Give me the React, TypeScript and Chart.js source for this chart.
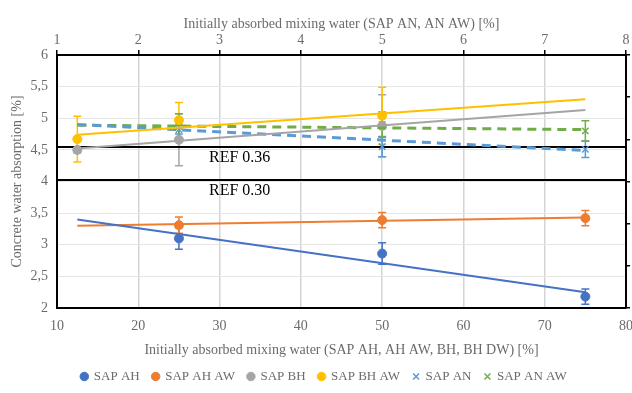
import React, { useEffect, useRef } from 'react';
import { Chart, registerables } from 'chart.js';
Chart.register(...registerables);

// ---- data (bottom axis: SAP AH, AH AW, BH, BH AW) ----
const xAH = [25, 50, 75];
const ahValues = [3.1, 2.86, 2.18];
const ahErrors = [0.17, 0.17, 0.12];
const ahAwValues = [3.31, 3.39, 3.42];
const ahAwErrors = [0.13, 0.12, 0.12];

const xBH = [12.5, 25, 50];
const bhValues = [4.5, 4.66, 4.88];
const bhErrors = [0.05, 0.41, 0.49];
const bhAwValues = [4.67, 4.97, 5.04];
const bhAwErrors = [0.36, 0.28, 0.45];

// ---- data (top axis: SAP AN, AN AW) ----
const xAN = [2.5, 5, 7.5];
const anValues = [4.82, 4.55, 4.51];
const anErrors = [0.07, 0.16, 0.13];
const anAwValues = [4.87, 4.9, 4.8];
const anAwErrors = [0.2, 0.2, 0.16];

// ---- trendlines (endpoints) ----
const trendXBottom = [12.5, 75];
const trendAH = [3.4, 2.25];
const trendAHAW = [3.3, 3.43];
const trendBH = [4.52, 5.13];
const trendBHAW = [4.74, 5.3];
const trendXTop = [1.25, 7.5];
const trendAN = [4.9, 4.49];
const trendANAW = [4.89, 4.82];

// ---- reference levels ----
const refValues = [4.55, 4.03];
const refLabels = ['REF 0.36', 'REF 0.30'];

const labels = ['SAP AH', 'SAP AH AW', 'SAP BH', 'SAP BH AW', 'SAP AN', 'SAP AN AW'];
const colors = ['#4472C4', '#ED7D31', '#A5A5A5', '#FFC000', '#5B9BD5', '#70AD47'];

const FONT = 'Liberation Serif';
const TXT = '#6b6b6b';

const pts = (xs: number[], ys: number[]) => xs.map((x, i) => ({ x, y: ys[i] }));

const errorBarPlugin = {
  id: 'errorBars',
  beforeDatasetsDraw(chart: any) {
    const ctx = chart.ctx;
    const ys = chart.scales.y;
    chart.data.datasets.forEach((ds: any) => {
      if (!ds.errors) return;
      const xs = chart.scales[ds.xAxisID || 'x'];
      ctx.save();
      ctx.strokeStyle = ds.errorColor || ds.borderColor;
      ctx.lineWidth = 1.5;
      ds.data.forEach((p: any, j: number) => {
        const e = ds.errors[j];
        const px = xs.getPixelForValue(p.x);
        const t = ys.getPixelForValue(p.y + e);
        const b = ys.getPixelForValue(p.y - e);
        ctx.beginPath();
        ctx.moveTo(px, t);
        ctx.lineTo(px, b);
        ctx.moveTo(px - 4, t);
        ctx.lineTo(px + 4, t);
        ctx.moveTo(px - 4, b);
        ctx.lineTo(px + 4, b);
        ctx.stroke();
      });
      ctx.restore();
    });
  },
};

const refPlugin = {
  id: 'refLines',
  beforeDatasetsDraw(chart: any) {
    const ctx = chart.ctx;
    const { left, right } = chart.chartArea;
    const ys = chart.scales.y;
    const xs = chart.scales.x;
    ctx.save();
    refValues.forEach((v, i) => {
      const py = Math.round(ys.getPixelForValue(v));
      ctx.strokeStyle = '#000';
      ctx.lineWidth = 2;
      ctx.beginPath();
      ctx.moveTo(left, py);
      ctx.lineTo(right, py);
      ctx.stroke();
      ctx.fillStyle = '#000';
      ctx.font = `16px "${FONT}"`;
      ctx.textBaseline = 'middle';
      ctx.textAlign = 'left';
      ctx.fillText(refLabels[i], xs.getPixelForValue(28.7), ys.getPixelForValue(v - 0.17));
    });
    ctx.restore();
  },
};

// nudges the legend row to the right, as in the original
const legendShiftPlugin = {
  id: 'legendShift',
  afterLayout(chart: any) {
    if (chart.legend) {
      chart.legend.left += 8;
      chart.legend.right += 8;
    }
  },
};

export default function App() {
  const ref = useRef<HTMLCanvasElement>(null);
  useEffect(() => {
    if (!ref.current) return;
    const pointDs = (i: number, xs: number[], ys: number[], errs: number[], top = false) => ({
      label: labels[i],
      data: pts(xs, ys),
      xAxisID: top ? 'xTop' : 'x',
      yAxisID: 'y',
      errors: errs,
      errorColor: colors[i],
      backgroundColor: colors[i],
      borderColor: colors[i],
      borderWidth: top ? 1.5 : 1,
      pointStyle: top ? 'crossRot' : 'circle',
      pointRadius: 4.5,
      showLine: false,
    });
    const trendDs = (i: number, xs: number[], ys: number[], top = false) => ({
      label: labels[i] + ' trend',
      isTrend: true,
      data: pts(xs, ys),
      xAxisID: top ? 'xTop' : 'x',
      yAxisID: 'y',
      borderColor: colors[i],
      backgroundColor: colors[i],
      borderWidth: top ? 3 : 2,
      borderDash: top ? [9, 6] : [],
      pointRadius: 0,
      showLine: true,
    });
    const datasets: any[] = [
      trendDs(0, trendXBottom, trendAH),
      trendDs(1, trendXBottom, trendAHAW),
      trendDs(2, trendXBottom, trendBH),
      trendDs(3, trendXBottom, trendBHAW),
      trendDs(4, trendXTop, trendAN, true),
      trendDs(5, trendXTop, trendANAW, true),
      pointDs(0, xAH, ahValues, ahErrors),
      pointDs(1, xAH, ahAwValues, ahAwErrors),
      pointDs(2, xBH, bhValues, bhErrors),
      pointDs(3, xBH, bhAwValues, bhAwErrors),
      pointDs(4, xAN, anValues, anErrors, true),
      pointDs(5, xAN, anAwValues, anAwErrors, true),
    ];
    const tickFont = { family: FONT, size: 14 };
    const noPad = (s: any) => { s.paddingLeft = 0; s.paddingRight = 0; s.paddingTop = 0; s.paddingBottom = 0; };
    const chart = new Chart(ref.current, {
      type: 'scatter',
      data: { datasets },
      plugins: [errorBarPlugin, refPlugin, legendShiftPlugin],
      options: {
        responsive: false,
        animation: false,
        layout: { padding: 0 },
        plugins: {
          tooltip: { enabled: false },
          legend: {
            position: 'bottom',
            labels: {
              usePointStyle: true,
              boxWidth: 6,
              boxHeight: 6,
              padding: 13,
              color: TXT,
              font: { family: FONT, size: 13 },
              filter: (item: any, data: any) => !data.datasets[item.datasetIndex].isTrend,
            },
          },
        },
        scales: {
          x: {
            type: 'linear',
            position: 'bottom',
            min: 10,
            max: 80,
            ticks: { stepSize: 10, color: TXT, font: tickFont, padding: 10 },
            grid: { color: '#D4D4D4', lineWidth: 1.5, drawTicks: false },
            border: { color: '#000', width: 2 },
            title: {
              display: true,
              text: 'Initially absorbed mixing water (SAP AH, AH AW, BH, BH DW) [%]',
              color: TXT,
              font: tickFont,
              padding: { top: 0, bottom: -1.5 },
            },
            afterFit: (s: any) => { s.height = 49; noPad(s); },
          },
          xTop: {
            type: 'linear',
            position: 'top',
            min: 1,
            max: 8,
            ticks: { stepSize: 1, color: TXT, font: tickFont, padding: 1 },
            grid: { drawOnChartArea: false, color: '#000', tickLength: 5, lineWidth: 1.5 },
            border: { color: '#000', width: 2 },
            title: {
              display: true,
              text: 'Initially absorbed mixing water (SAP AN, AN AW) [%]',
              color: TXT,
              font: tickFont,
              padding: { top: 16, bottom: 0 },
            },
            afterFit: (s: any) => { s.height = 55; noPad(s); },
          },
          y: {
            type: 'linear',
            position: 'left',
            min: 2,
            max: 6,
            ticks: {
              stepSize: 0.5,
              color: TXT,
              font: tickFont,
              padding: 9,
              callback: (v: any) => String(v).replace('.', ','),
            },
            grid: { color: '#E6E6E6', lineWidth: 1, drawTicks: false },
            border: { color: '#000', width: 2 },
            title: {
              display: true,
              text: 'Concrete water absorption [%]',
              color: TXT,
              font: tickFont,
              padding: { top: 8.5, bottom: 0 },
            },
            afterFit: (s: any) => { s.width = 57; noPad(s); },
          },
          yRight: {
            type: 'linear',
            position: 'right',
            min: 0,
            max: 6,
            ticks: { display: false, stepSize: 1 },
            grid: { drawOnChartArea: false, color: '#000', tickLength: 4, lineWidth: 1.5 },
            border: { color: '#000', width: 2 },
            afterFit: (s: any) => { s.width = 6; noPad(s); },
          },
        },
      } as any,
    });
    return () => chart.destroy();
  }, []);
  return (
    <div style={{ position: 'fixed', left: 0, top: 0, width: 632, height: 393, background: '#fff' }}>
      <canvas ref={ref} width={632} height={393} style={{ display: 'block' }} />
    </div>
  );
}
